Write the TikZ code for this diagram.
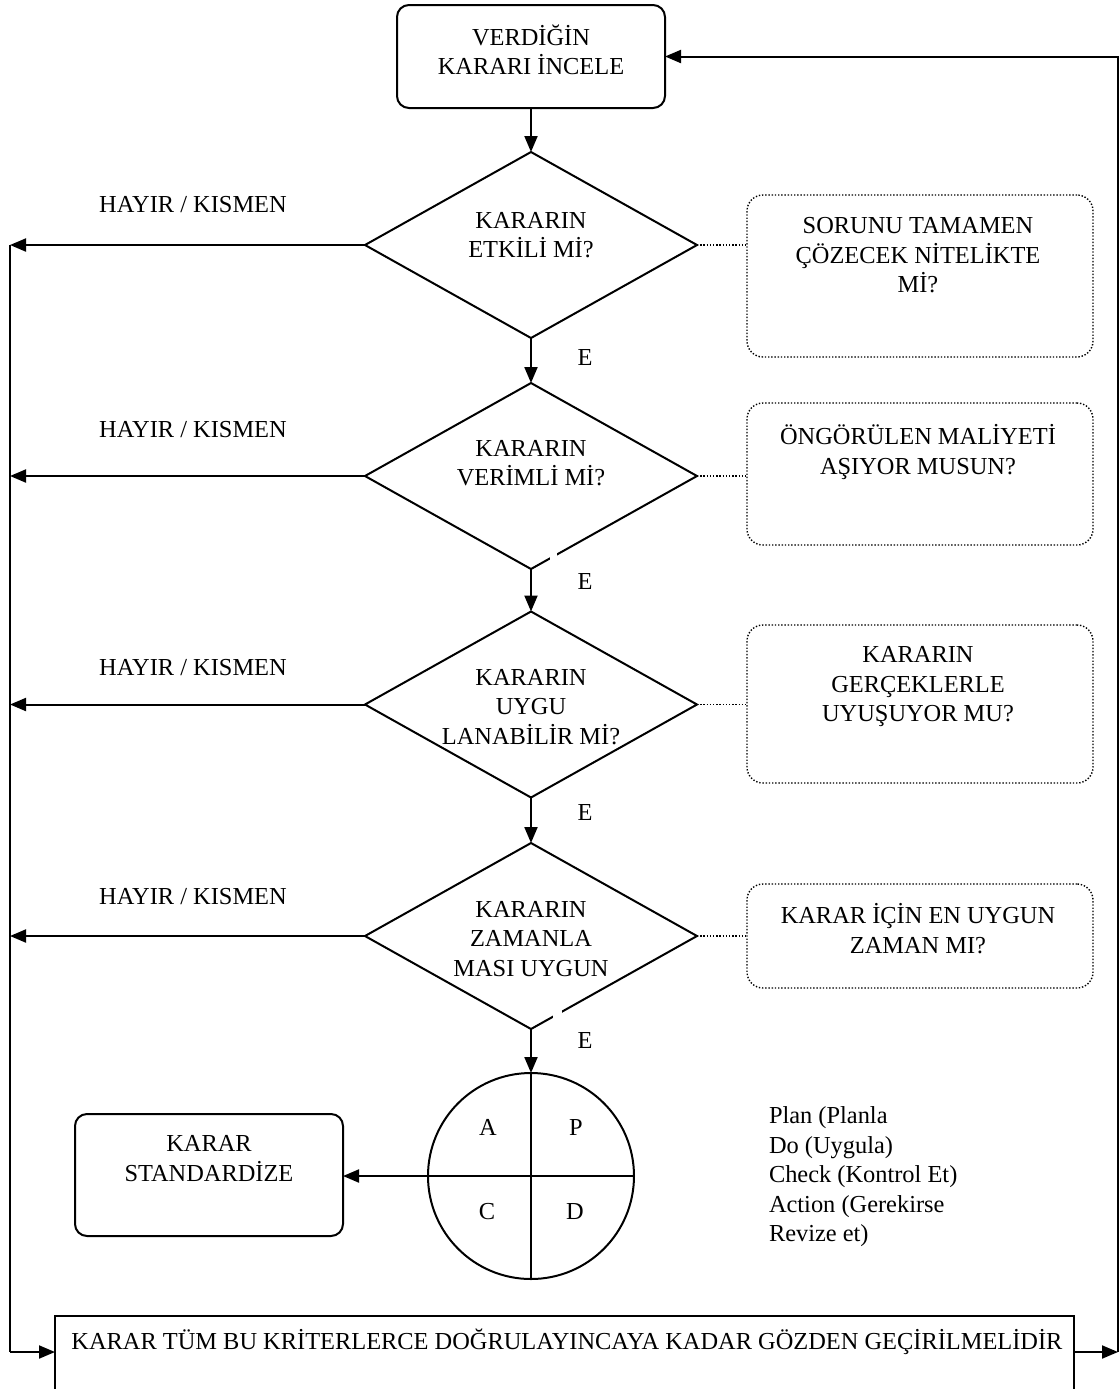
\documentclass[tikz,border=0pt]{standalone}
\usepackage{fontspec}
\setmainfont{Liberation Serif}
\usetikzlibrary{arrows.meta,shapes.geometric}

\begin{document}
\begin{tikzpicture}[x=0.5pt,y=-0.5pt,
  every node/.style={font=\fontsize{12.2pt}{14.75pt}\selectfont,inner sep=0pt,outer sep=0pt},
  line/.style={line width=1pt},
  arr/.style={line width=1pt,-{Triangle[length=8pt,width=6.5pt]}},
  dotline/.style={line width=0.7pt,dash pattern=on 0.7pt off 0.9pt},
  proc/.style={draw,line width=1pt,rounded corners=6pt,minimum width=134pt},
  dia/.style={draw,line width=1pt,diamond,minimum width=166pt,minimum height=93pt},
  note/.style={draw,line width=0.7pt,dash pattern=on 0.7pt off 0.9pt,rounded corners=8pt,minimum width=173pt},
  lbl/.style={align=center}]

\useasboundingbox (0,0) rectangle (1120,1389);

% main column
\node[proc,minimum height=51.5pt] (start) at (531,56.5) {};
\node[lbl] (startT) at (531,50) {VERDİĞİN\\KARARI İNCELE};

\node[dia] (d1) at (531,245) {};
\node[lbl] (d1T) at (531,235) {KARARIN\\ETKİLİ Mİ?};
\node[dia] (d2) at (531,476) {};
\node[lbl] (d2T) at (531,463) {KARARIN\\VERİMLİ Mİ?};
\node[dia] (d3) at (531,704.5) {};
\node[lbl] (d3T) at (531,707) {KARARIN\\UYGU\\LANABİLİR Mİ?};
\node[dia] (d4) at (531,936) {};
\node[lbl] (d4T) at (531,939) {KARARIN\\ZAMANLA\\MASI UYGUN};

% small breaks in the lower right edges
\fill[white] (550,550) rectangle (557,560);
\fill[white] (553,1008) rectangle (562,1020);

% PDCA wheel
\node[draw,circle,line width=1pt,minimum size=103pt] (pdca) at (531,1176) {};
\draw[line] (pdca.north) -- (pdca.south);
\draw[line] (pdca.west) -- (pdca.east);
\node (qA) at (488,1127) {A};
\node (qP) at (576,1127) {P};
\node (qC) at (487,1212) {C};
\node (qD) at (575,1212) {D};

\node[proc,minimum height=61pt] (std) at (209,1175) {};
\node[lbl] (stdT) at (209,1158.5) {KARAR\\STANDARDİZE};

\node[align=left,anchor=west] (pdcaT) at (769,1177)
  {Plan (Planla\\Do (Uygula)\\Check (Kontrol Et)\\Action (Gerekirse\\Revize et)};

% side questions
\node[note,minimum height=81pt] (n1) at (920,276) {};
\node[lbl] (n1T) at (918,255.5) {SORUNU TAMAMEN\\ÇÖZECEK NİTELİKTE\\Mİ?};
\node[note,minimum height=71pt] (n2) at (920,474) {};
\node[lbl] (n2T) at (918,452) {ÖNGÖRÜLEN MALİYETİ\\AŞIYOR MUSUN?};
\node[note,minimum height=79pt] (n3) at (920,704) {};
\node[lbl] (n3T) at (918,687) {KARARIN\\GERÇEKLERLE\\UYUŞUYOR MU?};
\node[note,minimum height=52pt] (n4) at (920,936) {};
\node[lbl] (n4T) at (918,928.5) {KARAR İÇİN EN UYGUN\\ZAMAN MI?};

\draw[dotline] (d1.east) -- (d1.east -| n1.west);
\draw[dotline] (d2.east) -- (d2.east -| n2.west);
\draw[dotline] (d3.east) -- (d3.east -| n3.west);
\draw[dotline] (d4.east) -- (d4.east -| n4.west);

% labels
\node (h1) at (193,204.5) {HAYIR / KISMEN};
\node (h2) at (193,430) {HAYIR / KISMEN};
\node (h3) at (193,668) {HAYIR / KISMEN};
\node (h4) at (193,897) {HAYIR / KISMEN};
\node (e1) at (585,357) {E};
\node (e2) at (585,581) {E};
\node (e3) at (585,812) {E};
\node (e4) at (585,1040) {E};

% bottom box, open at the lower edge
\node[minimum width=509.5pt,minimum height=36pt] (bot) at (564.5,1352) {};
\draw[line] ([yshift=-20pt]bot.south west) -- (bot.north west) -- (bot.north east) -- ([yshift=-20pt]bot.south east);
\node (botT) at (567,1342) {KARAR TÜM BU KRİTERLERCE DOĞRULAYINCAYA KADAR GÖZDEN GEÇİRİLMELİDİR};

% flow
\draw[arr] (start.south) -- (d1.north);
\draw[arr] (d1.south) -- (d2.north);
\draw[arr] (d2.south) -- (d3.north);
\draw[arr] (d3.south) -- (d4.north);
\draw[arr] (d4.south) -- (pdca.north);
\draw[arr] (pdca.west) -- (pdca.west -| std.east);

% feedback loops
\coordinate (lbus) at (10,1352);
\coordinate (rbus) at (1118,1352);
\draw[arr] (d1.west) -- (d1.west -| lbus);
\draw[arr] (d2.west) -- (d2.west -| lbus);
\draw[arr] (d3.west) -- (d3.west -| lbus);
\draw[arr] (d4.west) -- (d4.west -| lbus);
\draw[line] (d1.west -| lbus) -- (lbus);
\draw[arr] (lbus) -- (bot.west);
\draw[arr] (bot.east) -- (rbus);
\draw[arr] (rbus) |- (start.east);
\end{tikzpicture}
\end{document}
